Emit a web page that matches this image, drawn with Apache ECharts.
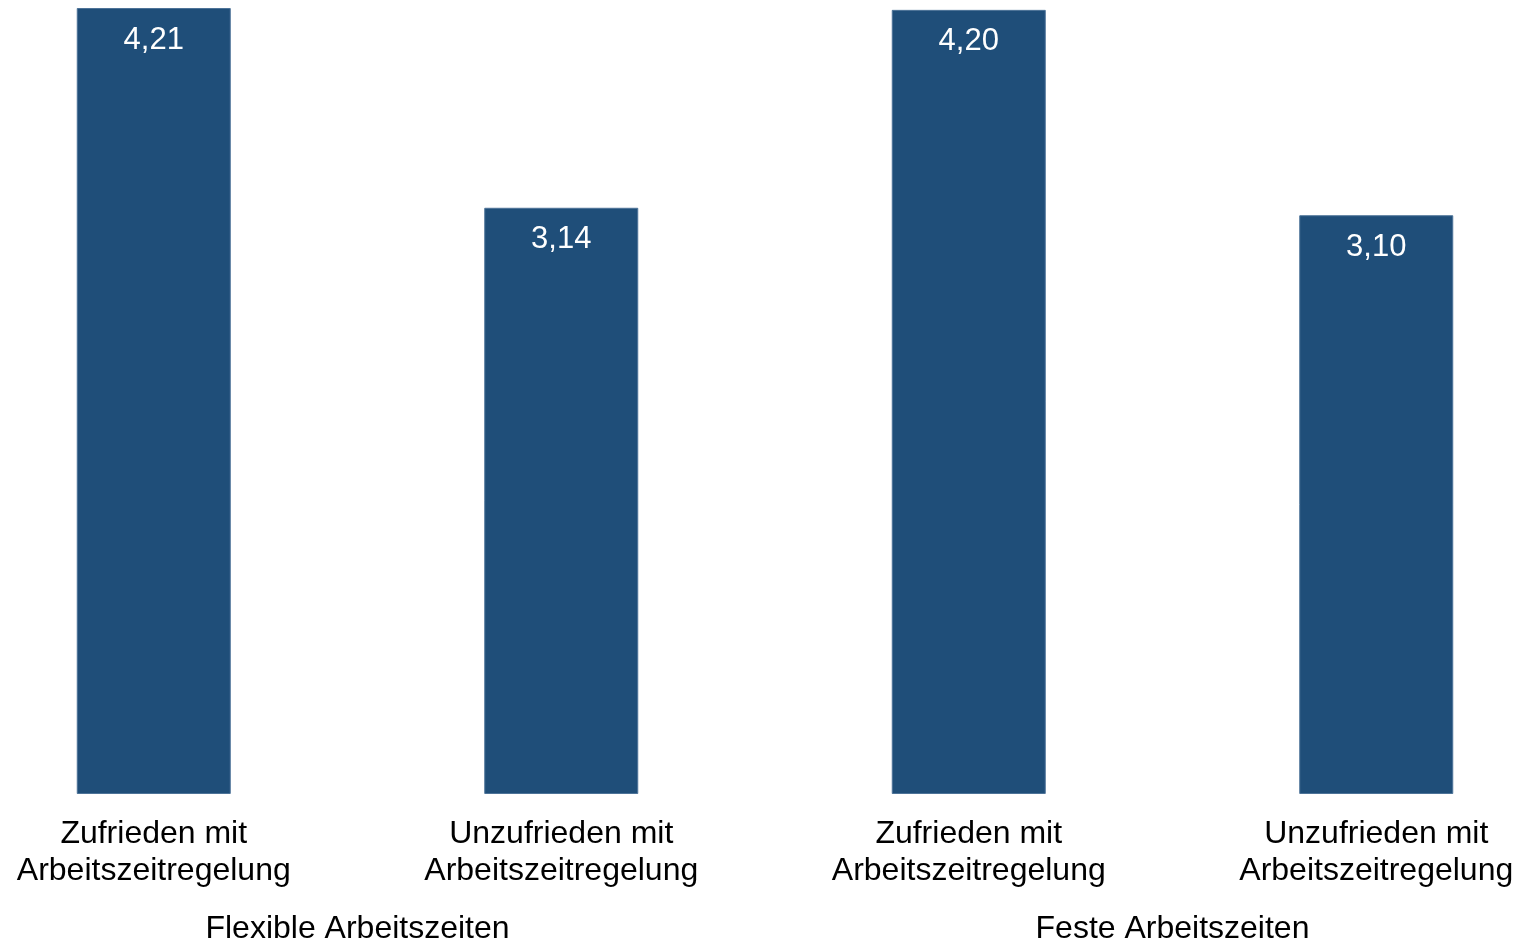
<!DOCTYPE html>
<html>
<head>
<meta charset="utf-8">
<script src="https://cdn.jsdelivr.net/npm/echarts@6/dist/echarts.min.js"></script>
<style>
html,body{margin:0;padding:0;background:#fff;}
#chart{width:1519px;height:940px;}
</style>
</head>
<body>
<div id="chart"></div>
<script>
const categories = [
  "Zufrieden mit\nArbeitszeitregelung",
  "Unzufrieden mit\nArbeitszeitregelung",
  "Zufrieden mit\nArbeitszeitregelung",
  "Unzufrieden mit\nArbeitszeitregelung"
];
const values = [4.21, 3.14, 4.20, 3.10];
const groups = ["Flexible Arbeitszeiten", "Feste Arbeitszeiten"];

const chart = echarts.init(document.getElementById('chart'), null, {renderer: 'canvas'});
const font = 'Liberation Sans, Arial, sans-serif';
chart.setOption({
  animation: false,
  backgroundColor: '#ffffff',
  grid: {left: -50, width: 1630, top: 8, bottom: 146, containLabel: false, outerBoundsMode: 'none'},
  xAxis: [
    {
      type: 'category',
      data: categories,
      axisLine: {show: false},
      axisTick: {show: false},
      axisLabel: {
        interval: 0, color: '#000', fontFamily: font, fontSize: 32,
        lineHeight: 37, margin: 22
      }
    },
    {
      type: 'category',
      position: 'bottom',
      data: groups,
      axisLine: {show: false},
      axisTick: {show: false},
      axisLabel: {
        interval: 0, color: '#000', fontFamily: font, fontSize: 32,
        lineHeight: 32, margin: 119
      }
    }
  ],
  yAxis: {
    type: 'value', min: 0, max: 4.21,
    show: false,
    splitLine: {show: false}
  },
  series: [{
    type: 'bar',
    xAxisIndex: 0,
    data: values,
    barWidth: 154,
    itemStyle: {color: '#1F4E79', borderColor: '#4d7398', borderWidth: 1},
    label: {
      show: true,
      position: 'insideTop',
      distance: 17,
      color: '#fff',
      fontFamily: font,
      fontSize: 31,
      lineHeight: 30,
      formatter: p => p.value.toFixed(2).replace('.', ',')
    }
  }]
});
</script>
</body>
</html>
